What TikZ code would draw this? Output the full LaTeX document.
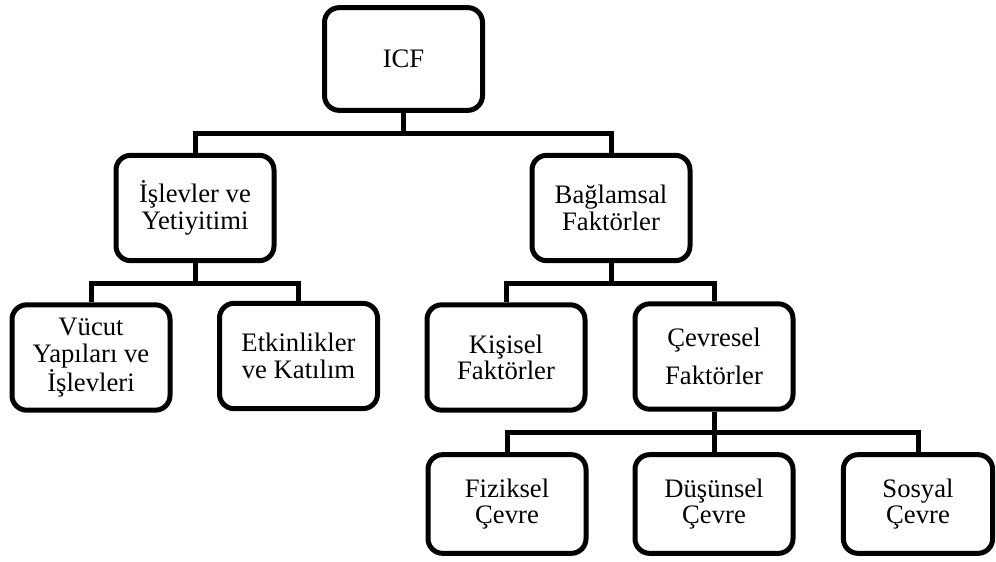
\documentclass[tikz,border=0pt]{standalone}
\usepackage{fontspec}
\setmainfont{Liberation Serif}
\begin{document}
\begin{tikzpicture}[x=0.75pt,y=0.75pt,yscale=-1,xscale=1,
  box/.style={draw,rectangle,rounded corners=11pt,line width=3.75pt,align=center,
    minimum width=118.5pt,minimum height=79pt,inner sep=2pt,
    font=\fontsize{20}{20}\selectfont},
  link/.style={line width=3.75pt}]
\useasboundingbox (0,0) rectangle (996,561);
\node[box,minimum height=77pt] (icf) at (403.5,59) {ICF};
\node[box] (isl) at (195,208) {İşlevler ve\\Yetiyitimi};
\node[box] (bag) at (611,208) {Bağlamsal\\Faktörler};
\node[box] (vuc) at (91,357.5) {Vücut\\Yapıları ve\\İşlevleri};
\node[box] (etk) at (298.5,356) {Etkinlikler\\ve Katılım};
\node[box] (kis) at (506,357.5) {Kişisel\\Faktörler};
\node[box] (cev) at (714,356.5) {Çevresel\\[8pt]Faktörler};
\node[box,minimum height=74pt] (fiz) at (507,504) {Fiziksel\\Çevre};
\node[box,minimum height=74pt] (dus) at (714,504) {Düşünsel\\Çevre};
\node[box,minimum height=74pt,minimum width=112pt] (sos) at (918,504) {Sosyal\\Çevre};
\coordinate (b1) at (403.5,133);
\coordinate (b2) at (195,283);
\coordinate (b3) at (611,283);
\coordinate (b4) at (714,432);
\draw[link] (icf.south) -- (b1) -| (isl.north);
\draw[link] (b1) -| (bag.north);
\draw[link] (isl.south) -- (b2) -| (vuc.north);
\draw[link] (b2) -| (etk.north);
\draw[link] (bag.south) -- (b3) -| (kis.north);
\draw[link] (b3) -| (cev.north);
\draw[link] (cev.south) -- (b4) -| (fiz.north);
\draw[link] (b4) -- (dus.north);
\draw[link] (b4) -| (sos.north);
\end{tikzpicture}
\end{document}
